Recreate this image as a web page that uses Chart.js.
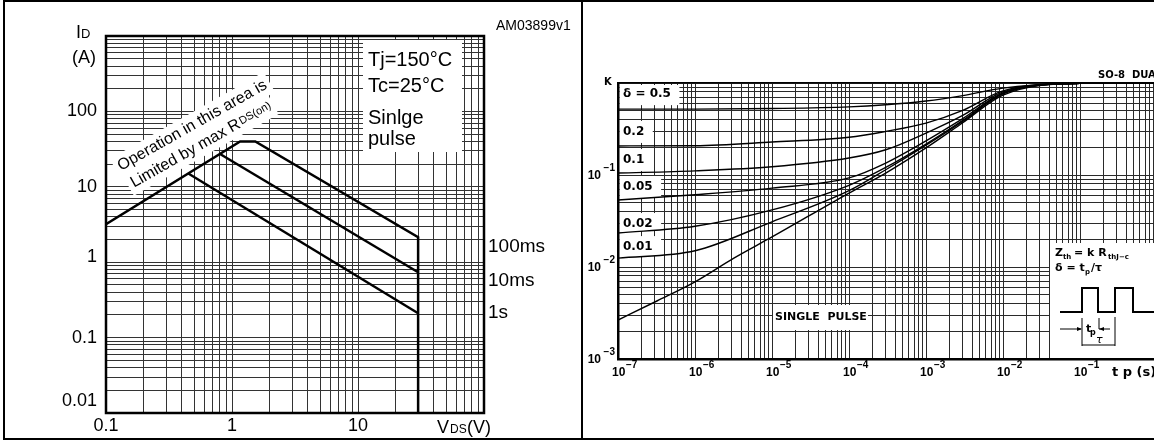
<!DOCTYPE html>
<html>
<head>
<meta charset="utf-8">
<script src="https://cdn.jsdelivr.net/npm/chart.js@4.4.0/dist/chart.umd.min.js"></script>
<style>
html, body { margin: 0; padding: 0; background: #fff; overflow: hidden; }
body { width: 1154px; height: 441px; position: relative; }
canvas { position: absolute; top: 0; }
#soa { left: 0; }
#zth { left: 583px; }
.rule { position: absolute; background: #000; }
</style>
</head>
<body>
<canvas id="soa" width="580" height="441"></canvas>
<canvas id="zth" width="580" height="441"></canvas>
<div class="rule" style="left:3px;top:0;width:1151px;height:2px"></div>
<div class="rule" style="left:3px;top:0;width:2px;height:440px"></div>
<div class="rule" style="left:3px;top:438px;width:1151px;height:2px"></div>
<div class="rule" style="left:581px;top:0;width:2px;height:440px"></div>
<script>
// ---- left chart: safe operating area ----
const soaLimitV = [0.1, 1.16, 1.53, 30, 30];
const soaLimitI = [3.2, 40, 40, 2.15, 0.01];
const soa10msV = [0.81, 30];
const soa10msI = [27, 0.735];
const soa1sV = [0.45, 30];
const soa1sI = [15, 0.21];
const soaPulseLabels = ["100ms", "10ms", "1s"];
const soaXLabels = [0.1, 1, 10];
const soaYLabels = [0.01, 0.1, 1, 10, 100];
const soaConditions = ["Tj=150°C", "Tc=25°C", "Sinlge", "pulse"];

// ---- right chart: normalized thermal impedance ----
const tpGrid = [1e-7, 1e-6, 1e-5, 1e-4, 3e-4, 1e-3, 3e-3, 1e-2, 1e-1, 1];
const kDelta05 = [0.52, 0.52, 0.528, 0.55, 0.58, 0.637, 0.73, 0.88, 0.99, 1.0];
const kDelta02 = [0.207, 0.208, 0.228, 0.257, 0.298, 0.367, 0.505, 0.82, 0.99, 1.0];
const kDelta01 = [0.105, 0.111, 0.123, 0.153, 0.188, 0.286, 0.445, 0.8, 0.99, 1.0];
const kDelta005 = [0.0535, 0.061, 0.072, 0.093, 0.135, 0.235, 0.41, 0.78, 0.99, 1.0];
const kDelta002 = [0.0234, 0.0277, 0.0417, 0.0773, 0.121, 0.217, 0.393, 0.77, 0.99, 1.0];
const kDelta001 = [0.0125, 0.015, 0.031, 0.0675, 0.114, 0.211, 0.383, 0.76, 0.99, 1.0];
const tpSingle = [1e-7, 3.2e-7, 1e-6, 3.2e-6, 1e-5, 1e-4, 3e-4, 1e-3, 3e-3, 1e-2, 1e-1, 1];
const kSingle = [0.00265, 0.00427, 0.0069, 0.0125, 0.0212, 0.0637, 0.105, 0.197, 0.37, 0.74, 0.99, 1.0];
const deltaLabels = ["δ = 0.5", "0.2", "0.1", "0.05", "0.02", "0.01"];
const zthXExp = [-7, -6, -5, -4, -3, -2, -1];
const zthYExp = [-1, -2, -3];

const FONT = '"Liberation Sans", Arial, sans-serif';
const SFONT = '"DejaVu Sans", sans-serif';

// gridlines at 1..9 of every decade
function logTicks(e0, e1) {
  const t = [];
  for (let e = e0; e < e1; e++) {
    for (let m = 1; m < 10; m++) t.push(+(m * Math.pow(10, e)).toPrecision(3));
  }
  t.push(Math.pow(10, e1));
  return t;
}
const pts = (xs, ys) => xs.map((v, i) => ({ x: v, y: ys[i] }));

function gridScale(min, max, ticks, color) {
  return {
    type: "logarithmic",
    min, max,
    afterBuildTicks: (s) => { s.ticks = ticks.map((v) => ({ value: v })); },
    ticks: { display: false },
    grid: { color, lineWidth: 1, drawTicks: false },
    border: { display: false },
  };
}

const soaOverlay = {
  id: "soaOverlay",
  beforeDatasetsDraw(chart) {
    const ctx = chart.ctx;
    ctx.save();
    // test conditions panel
    ctx.fillStyle = "#fff";
    ctx.fillRect(363, 40, 99, 112);
    ctx.fillStyle = "#000";
    ctx.font = "20px " + FONT;
    ctx.textBaseline = "alphabetic";
    const base = [66, 92, 124, 145];
    soaConditions.forEach((t, i) => ctx.fillText(t, 368, base[i]));

    // rotated RDS(on) note
    ctx.translate(121, 171);
    ctx.rotate((-29.5 * Math.PI) / 180);
    ctx.font = "16px " + FONT;
    const l1 = "Operation in this area is";
    const l2 = "Limited by max R";
    const w1 = ctx.measureText(l1).width;
    const w2 = ctx.measureText(l2).width;
    ctx.font = "11px " + FONT;
    const w3 = ctx.measureText("DS(on)").width;
    ctx.fillStyle = "#fff";
    ctx.fillRect(-4, -16, w1 + 8, 23);
    ctx.fillRect(-1, 6, w2 + w3 + 8, 22);
    ctx.fillStyle = "#000";
    ctx.font = "16px " + FONT;
    ctx.fillText(l1, 0, 0);
    ctx.fillText(l2, 3, 21);
    ctx.font = "11px " + FONT;
    ctx.fillText("DS(on)", 3 + w2 + 1, 19);
    ctx.restore();
  },
  afterDraw(chart) {
    const { ctx, chartArea: a, scales: { x, y } } = chart;
    ctx.save();
    ctx.strokeStyle = "#000";
    ctx.lineWidth = 2.5;
    ctx.strokeRect(a.left, a.top, a.right - a.left, a.bottom - a.top);
    ctx.fillStyle = "#000";
    ctx.font = "18px " + FONT;
    ctx.textBaseline = "middle";
    ctx.textAlign = "right";
    const yShift = [-12, 0, -5, 0, 0];
    soaYLabels.forEach((v, i) => ctx.fillText(String(v), 97, y.getPixelForValue(v) + yShift[i]));
    ctx.textAlign = "center";
    soaXLabels.forEach((v) => ctx.fillText(String(v), x.getPixelForValue(v), 426));
    ctx.textAlign = "left";
    ctx.textBaseline = "alphabetic";
    // axis titles
    ctx.font = "18px " + FONT;
    ctx.fillText("V", 437, 433);
    ctx.font = "12px " + FONT;
    ctx.fillText("DS", 450, 433);
    ctx.font = "18px " + FONT;
    ctx.fillText("(V)", 467, 433);
    ctx.font = "18px " + FONT;
    ctx.fillText("I", 76, 38);
    ctx.font = "13px " + FONT;
    ctx.fillText("D", 81, 38);
    ctx.font = "18px " + FONT;
    ctx.fillText("(A)", 72, 63);
    ctx.font = "14px " + FONT;
    ctx.fillText("AM03899v1", 496, 30);
    // pulse-duration labels beside line ends
    ctx.font = "19px " + FONT;
    const ends = [soaLimitI[3], soa10msI[1], soa1sI[1]];
    const off = [15, 14, 5];
    soaPulseLabels.forEach((t, i) => ctx.fillText(t, 488, y.getPixelForValue(ends[i]) + off[i]));
    ctx.restore();
  },
};

const lineStyle = { borderColor: "#000", borderWidth: 2.5, pointRadius: 0, fill: false };
new Chart(document.getElementById("soa"), {
  type: "line",
  data: {
    datasets: [
      { ...lineStyle, data: pts(soaLimitV, soaLimitI) },
      { ...lineStyle, data: pts(soa10msV, soa10msI) },
      { ...lineStyle, data: pts(soa1sV, soa1sI) },
    ],
  },
  options: {
    responsive: false,
    animation: false,
    events: [],
    layout: { padding: { left: 106, right: 96, top: 36, bottom: 28 } },
    plugins: { legend: { display: false }, tooltip: { enabled: false } },
    scales: {
      x: gridScale(0.1, 100, logTicks(-1, 2), "#333"),
      y: gridScale(0.01, 1000, logTicks(-2, 3), "#333"),
    },
  },
  plugins: [soaOverlay],
});

const zthOverlay = {
  id: "zthOverlay",
  beforeDatasetsDraw(chart) {
    const { ctx, chartArea: a, scales: { x, y } } = chart;
    const firsts = [kDelta05, kDelta02, kDelta01, kDelta005, kDelta002, kDelta001];
    const gap = [12, 11, 10, 10, 6, 8];
    ctx.save();
    ctx.font = "bold 12px " + SFONT;
    ctx.textBaseline = "alphabetic";
    deltaLabels.forEach((t, i) => {
      const by = y.getPixelForValue(firsts[i][0]) - gap[i];
      const w = ctx.measureText(t).width;
      const top = Math.max(by - 14, a.top + 2);
      const bottom = Math.min(by + 8, y.getPixelForValue(firsts[i][0]) - 2);
      ctx.fillStyle = "#fff";
      ctx.fillRect(a.left + 1.5, top, w + 12, bottom - top);
      ctx.fillStyle = "#000";
      ctx.fillText(t, a.left + 5, by);
    });
    // single pulse tag
    ctx.fillStyle = "#fff";
    ctx.fillRect(190, 305, 95, 25);
    ctx.fillStyle = "#000";
    ctx.font = "bold 11px " + SFONT;
    ctx.fillText("SINGLE  PULSE", 192, 320);

    // Zth definition panel with pulse train
    ctx.fillStyle = "#fff";
    ctx.fillRect(467, 243, 115, a.bottom - 244);
    ctx.fillStyle = "#000";
    ctx.font = "bold 11px " + SFONT;
    ctx.fillText("Z", 472, 256);
    ctx.fillText("= k R", 491, 256);
    ctx.fillText("δ = t", 472, 271);
    ctx.fillText("/τ", 508, 271);
    ctx.font = "bold 7px " + SFONT;
    ctx.fillText("th", 480, 259);
    ctx.fillText("thJ−c", 525, 259);
    ctx.fillText("p", 502, 274);
    ctx.strokeStyle = "#000";
    ctx.lineWidth = 2;
    ctx.beginPath();
    ctx.moveTo(477, 312); ctx.lineTo(499, 312); ctx.lineTo(499, 288); ctx.lineTo(515, 288);
    ctx.lineTo(515, 312); ctx.lineTo(532, 312); ctx.lineTo(532, 288); ctx.lineTo(550, 288);
    ctx.lineTo(550, 312); ctx.lineTo(575, 312);
    ctx.stroke();
    ctx.lineWidth = 1;
    ctx.beginPath();
    ctx.moveTo(499, 318); ctx.lineTo(499, 346);
    ctx.moveTo(532, 317); ctx.lineTo(532, 346);
    ctx.moveTo(499, 345); ctx.lineTo(532, 345);
    ctx.moveTo(477, 329); ctx.lineTo(498, 329);
    ctx.moveTo(516, 318); ctx.lineTo(516, 329); ctx.lineTo(527, 329);
    ctx.stroke();
    ctx.beginPath();
    ctx.moveTo(499, 329); ctx.lineTo(494, 327); ctx.lineTo(494, 331); ctx.closePath();
    ctx.moveTo(516, 329); ctx.lineTo(521, 327); ctx.lineTo(521, 331); ctx.closePath();
    ctx.fill();
    ctx.font = "bold 11px " + SFONT;
    ctx.fillText("t", 503, 332);
    ctx.font = "bold 8px " + SFONT;
    ctx.fillText("p", 507, 335);
    ctx.font = "italic 11px " + SFONT;
    ctx.fillText("τ", 513, 343);
    ctx.restore();
  },
  afterDraw(chart) {
    const { ctx, chartArea: a, scales: { x, y } } = chart;
    ctx.save();
    ctx.fillStyle = "#000";
    ctx.fillRect(a.left - 1, a.top - 1, a.right - a.left + 2, 1.5);
    ctx.fillRect(a.left - 1, a.top - 1, 2.5, a.bottom - a.top + 2);
    ctx.fillRect(a.left - 1, a.bottom - 1, a.right - a.left + 2, 2.5);
    ctx.textBaseline = "alphabetic";
    zthYExp.forEach((e) => {
      const py = y.getPixelForValue(Math.pow(10, e));
      ctx.font = "bold 12px " + FONT;
      ctx.textAlign = "right";
      ctx.fillText("10", a.left - 17, py + 4);
      ctx.font = "bold 10px " + FONT;
      ctx.fillText("−" + Math.abs(e), a.left - 3, py - 4);
    });
    ctx.textAlign = "left";
    zthXExp.forEach((e) => {
      const px = x.getPixelForValue(Math.pow(10, e));
      ctx.font = "bold 12px " + FONT;
      ctx.fillText("10", px - 6, 376);
      ctx.font = "bold 10px " + FONT;
      ctx.fillText("−" + Math.abs(e), px + 8, 368);
    });
    ctx.font = "bold 10px " + SFONT;
    ctx.fillText("K", 21, 85);
    ctx.fillText("SO-8  DUAL", 515, 78);
    ctx.font = "bold 13px " + SFONT;
    ctx.fillText("t p (s)", 529, 376);
    ctx.restore();
  },
};

const curveStyle = { borderColor: "#000", borderWidth: 1.4, pointRadius: 0, fill: false, cubicInterpolationMode: "monotone" };
const deltaSeries = [kDelta05, kDelta02, kDelta01, kDelta005, kDelta002, kDelta001];
new Chart(document.getElementById("zth"), {
  type: "line",
  data: {
    datasets: deltaSeries
      .map((k) => ({ ...curveStyle, data: pts(tpGrid, k) }))
      .concat([{ ...curveStyle, data: pts(tpSingle, kSingle) }]),
  },
  options: {
    responsive: false,
    animation: false,
    events: [],
    layout: { padding: { left: 35, right: 6, top: 83, bottom: 82 } },
    plugins: { legend: { display: false }, tooltip: { enabled: false } },
    scales: {
      x: gridScale(1e-7, 1, logTicks(-7, 0), "#2a2a2a"),
      y: gridScale(0.001, 1, logTicks(-3, 0), "#2a2a2a"),
    },
  },
  plugins: [zthOverlay],
});
</script>
</body>
</html>
